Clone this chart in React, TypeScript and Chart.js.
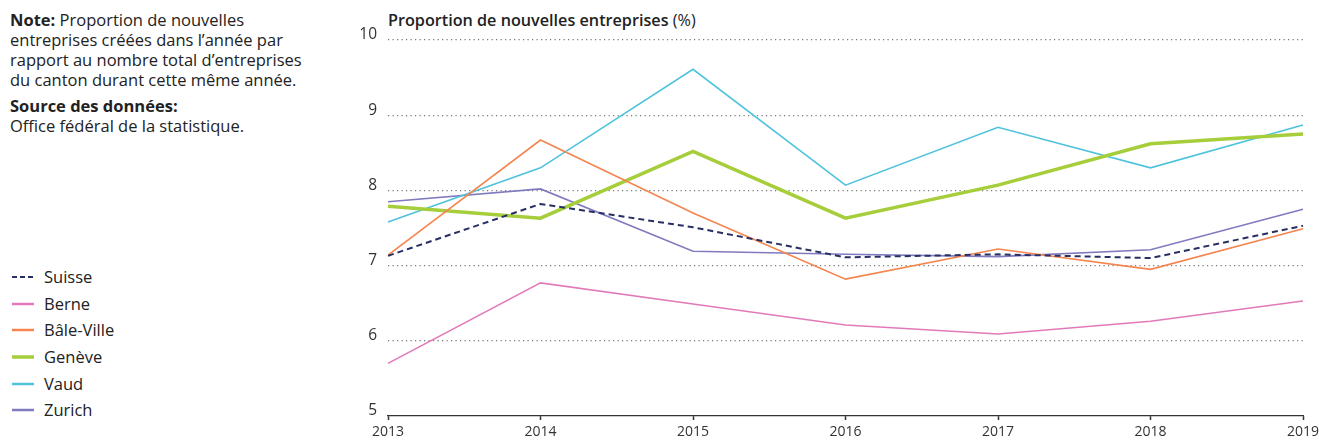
import React, { useEffect, useRef } from "react";
import { Chart, registerables } from "chart.js";

Chart.register(...registerables);

const years = ["2013", "2014", "2015", "2016", "2017", "2018", "2019"];
const suisse = [7.13, 7.82, 7.51, 7.11, 7.15, 7.1, 7.53];
const berne = [5.7, 6.77, 6.49, 6.21, 6.09, 6.26, 6.53];
const baleVille = [7.14, 8.67, 7.7, 6.82, 7.22, 6.95, 7.49];
const geneve = [7.79, 7.63, 8.52, 7.63, 8.07, 8.62, 8.75];
const vaud = [7.58, 8.3, 9.61, 8.07, 8.84, 8.3, 8.87];
const zurich = [7.85, 8.02, 7.19, 7.15, 7.12, 7.21, 7.75];
const yTicks = [5, 6, 7, 8, 9, 10];

const FONT = "'Open Sans', 'Noto Sans', sans-serif";

const series = [
  { label: "Suisse", data: suisse, color: "#272f63", width: 2, dash: [6, 4] },
  { label: "Berne", data: berne, color: "#e27ab9", width: 1.6, dash: [] },
  { label: "Bâle-Ville", data: baleVille, color: "#f5854e", width: 1.6, dash: [] },
  { label: "Genève", data: geneve, color: "#a6cd3a", width: 3.5, dash: [] },
  { label: "Vaud", data: vaud, color: "#4ec3dc", width: 1.6, dash: [] },
  { label: "Zurich", data: zurich, color: "#807bbf", width: 1.6, dash: [] },
];

export default function App() {
  const ref = useRef<HTMLCanvasElement>(null);
  useEffect(() => {
    if (!ref.current) return;
    const chart = new Chart(ref.current, {
      type: "line",
      data: {
        labels: years,
        datasets: series.map((s) => ({
          label: s.label,
          data: s.data,
          borderColor: s.color,
          backgroundColor: s.color,
          borderWidth: s.width,
          borderDash: s.dash,
          pointRadius: 0,
          tension: 0,
          fill: false,
        })),
      },
      options: {
        animation: false,
        responsive: false,
        maintainAspectRatio: false,
        layout: { padding: { top: 40, right: 16, bottom: 0, left: 0 } },
        plugins: { legend: { display: false }, tooltip: { enabled: false }, title: { display: false } },
        scales: {
          x: {
            type: "category",
            offset: false,
            grid: {
              drawOnChartArea: false,
              drawTicks: true,
              tickLength: 4,
              tickColor: "#333",
              tickWidth: 1.5,
            },
            border: { display: true, color: "#333", width: 1.2 },
            ticks: {
              color: "#333",
              padding: 4,
              maxRotation: 0,
              autoSkip: false,
              font: { family: FONT, size: 14 },
            },
            afterFit: (s: any) => {
              s.height = 24;
              s.paddingRight = 0;
              s.paddingLeft = 0;
            },
          },
          y: {
            min: 5,
            max: 10,
            afterBuildTicks: (s: any) => {
              s.ticks = yTicks.map((v) => ({ value: v }));
            },
            grid: {
              drawTicks: false,
              color: (ctx: any) => (ctx.tick && ctx.tick.value === 5 ? "rgba(0,0,0,0)" : "#777"),
              lineWidth: 1.2,
            },
            border: { display: false, dash: [1.2, 3.3] },
            ticks: {
              color: "#333",
              padding: 11,
              labelOffset: -5,
              font: { family: FONT, size: 15.5 },
            },
            afterFit: (s: any) => {
              s.width = 48;
            },
          },
        },
      },
    });
    return () => chart.destroy();
  }, []);

  const textStyle: React.CSSProperties = {
    fontFamily: FONT,
    fontSize: 16.5,
    color: "#222",
    lineHeight: "20px",
  };

  return (
    <div style={{ position: "absolute", left: 0, top: 0, width: 1319, height: 440, background: "#fff" }}>
      <div style={{ ...textStyle, position: "absolute", left: 10, top: 10, width: 330 }}>
        <div>
          <span style={{ fontWeight: 700 }}>Note:</span> Proportion de nouvelles
          <br />
          entreprises créées dans l’année par
          <br />
          rapport au nombre total d’entreprises
          <br />
          du canton durant cette même année.
        </div>
        <div style={{ marginTop: 6, fontWeight: 700 }}>Source des données:</div>
        <div>Office fédéral de la statistique.</div>
      </div>
      <div style={{ position: "absolute", left: 12, top: 264, width: 200 }}>
        {series.map((s) => (
          <div key={s.label} style={{ display: "flex", alignItems: "center", height: 26.6 }}>
            <svg width={22} height={4} style={{ marginRight: 10 }}>
              <line
                x1={0}
                y1={2}
                x2={22}
                y2={2}
                stroke={s.color}
                strokeWidth={s.label === "Genève" ? 3.5 : s.label === "Suisse" ? 2 : 2.5}
                strokeDasharray={s.dash.length ? "5,3" : undefined}
              />
            </svg>
            <span style={{ ...textStyle }}>{s.label}</span>
          </div>
        ))}
      </div>
      <div style={{ ...textStyle, fontSize: 16.2, position: "absolute", left: 388, top: 10, whiteSpace: "nowrap" }}>
        <span style={{ fontWeight: 600 }}>Proportion de nouvelles entreprises</span> (%)
      </div>
      <canvas ref={ref} width={979} height={440} style={{ position: "absolute", left: 340, top: 0, width: 979, height: 440 }} />
    </div>
  );
}
